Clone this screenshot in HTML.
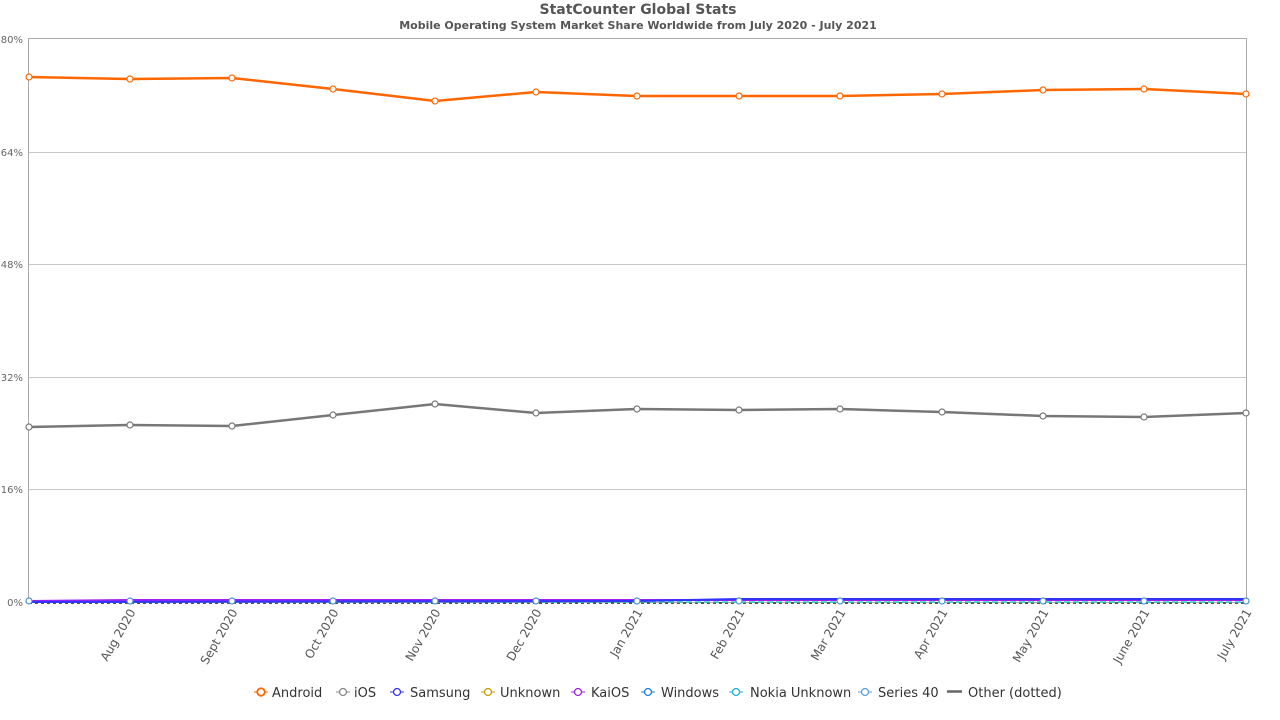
<!DOCTYPE html><html><head><style>body{margin:0;background:#fff}svg{display:block;font-family:"DejaVu Sans","Liberation Sans",sans-serif}</style></head><body>
<svg width="1280" height="720" viewBox="0 0 1280 720">
<text x="638" y="14" text-anchor="middle" font-size="14" font-weight="bold" fill="#555">StatCounter Global Stats</text>
<text x="638" y="29" text-anchor="middle" font-size="11" font-weight="bold" fill="#555">Mobile Operating System Market Share Worldwide from July 2020 - July 2021</text>
<g stroke="#c8c8c8" stroke-width="1">
<line x1="29" y1="152.5" x2="1246" y2="152.5"/><line x1="29" y1="264.5" x2="1246" y2="264.5"/><line x1="29" y1="377.5" x2="1246" y2="377.5"/><line x1="29" y1="489.5" x2="1246" y2="489.5"/>
</g>
<rect x="28.5" y="38.5" width="1218" height="564" fill="none" stroke="#aaa"/>
<g font-size="10" fill="#666" text-anchor="end">
<text x="23" y="43">80%</text><text x="23" y="156">64%</text><text x="23" y="268">48%</text><text x="23" y="381">32%</text><text x="23" y="493">16%</text><text x="23" y="606">0%</text>
</g>
<g font-size="12" fill="#555" text-anchor="end">
<text transform="translate(136,612) rotate(-60)">Aug 2020</text>
<text transform="translate(238,612) rotate(-60)">Sept 2020</text>
<text transform="translate(339,612) rotate(-60)">Oct 2020</text>
<text transform="translate(441,612) rotate(-60)">Nov 2020</text>
<text transform="translate(542,612) rotate(-60)">Dec 2020</text>
<text transform="translate(643,612) rotate(-60)">Jan 2021</text>
<text transform="translate(745,612) rotate(-60)">Feb 2021</text>
<text transform="translate(846,612) rotate(-60)">Mar 2021</text>
<text transform="translate(948,612) rotate(-60)">Apr 2021</text>
<text transform="translate(1049,612) rotate(-60)">May 2021</text>
<text transform="translate(1150,612) rotate(-60)">June 2021</text>
<text transform="translate(1252,612) rotate(-60)">July 2021</text>
</g>
<line x1="29" y1="603" x2="1246" y2="603" stroke="#555" stroke-width="2" stroke-dasharray="3,3"/>
<polyline fill="none" stroke="#3cc" stroke-width="1.5" stroke-dasharray="6,3" points="29,602 1246,602"/>
<polyline fill="none" stroke="#a020f0" stroke-width="2" points="29,601 130,600 232,600 333,600 435,600 536,600 637,600 739,600 840,600 942,600 1043,600 1144,600 1246,600"/>
<polyline fill="none" stroke="#33f" stroke-width="2" points="29,602 637,601 739,599 840,599 942,599 1043,599 1144,599 1246,599"/>
<polyline fill="none" stroke="#f60" stroke-width="2.5" points="29,77 130,79 232,78 333,89 435,101 536,92 637,96 739,96 840,96 942,94 1043,90 1144,89 1246,94"/>
<polyline fill="none" stroke="#777" stroke-width="2.5" points="29,427 130,425 232,426 333,415 435,404 536,413 637,409 739,410 840,409 942,412 1043,416 1144,417 1246,413"/>
<g fill="#fff" stroke="#f60" stroke-width="1.2">
<circle cx="29" cy="77" r="3"/><circle cx="130" cy="79" r="3"/><circle cx="232" cy="78" r="3"/><circle cx="333" cy="89" r="3"/><circle cx="435" cy="101" r="3"/><circle cx="536" cy="92" r="3"/><circle cx="637" cy="96" r="3"/><circle cx="739" cy="96" r="3"/><circle cx="840" cy="96" r="3"/><circle cx="942" cy="94" r="3"/><circle cx="1043" cy="90" r="3"/><circle cx="1144" cy="89" r="3"/><circle cx="1246" cy="94" r="3"/>
</g>
<g fill="#fff" stroke="#777" stroke-width="1.2">
<circle cx="29" cy="427" r="3"/><circle cx="130" cy="425" r="3"/><circle cx="232" cy="426" r="3"/><circle cx="333" cy="415" r="3"/><circle cx="435" cy="404" r="3"/><circle cx="536" cy="413" r="3"/><circle cx="637" cy="409" r="3"/><circle cx="739" cy="410" r="3"/><circle cx="840" cy="409" r="3"/><circle cx="942" cy="412" r="3"/><circle cx="1043" cy="416" r="3"/><circle cx="1144" cy="417" r="3"/><circle cx="1246" cy="413" r="3"/>
</g>
<g fill="#fff" stroke="#4a90d9" stroke-width="1.2">
<circle cx="29" cy="601" r="3"/><circle cx="130" cy="601" r="3"/><circle cx="232" cy="601" r="3"/><circle cx="333" cy="601" r="3"/><circle cx="435" cy="601" r="3"/><circle cx="536" cy="601" r="3"/><circle cx="637" cy="601" r="3"/><circle cx="739" cy="601" r="3"/><circle cx="840" cy="601" r="3"/><circle cx="942" cy="601" r="3"/><circle cx="1043" cy="601" r="3"/><circle cx="1144" cy="601" r="3"/><circle cx="1246" cy="601" r="3"/>
</g>
<g font-size="13" fill="#333">
<circle cx="261" cy="692" r="4" fill="#fff" stroke="#f60" stroke-width="1.3"/><line x1="254" y1="692" x2="268" y2="692" stroke="#f60"/><circle cx="261" cy="692" r="3.5" fill="#fff" stroke="#f60" stroke-width="1.3"/><text x="272" y="697">Android</text>
<line x1="336" y1="692" x2="350" y2="692" stroke="#888"/><circle cx="343" cy="692" r="3.5" fill="#fff" stroke="#888" stroke-width="1.3"/><text x="354" y="697">iOS</text>
<line x1="390" y1="692" x2="404" y2="692" stroke="#33f"/><circle cx="397" cy="692" r="3.5" fill="#fff" stroke="#33f" stroke-width="1.3"/><text x="410" y="697">Samsung</text>
<line x1="481" y1="692" x2="495" y2="692" stroke="#c90"/><circle cx="488" cy="692" r="3.5" fill="#fff" stroke="#c90" stroke-width="1.3"/><text x="500" y="697">Unknown</text>
<line x1="571" y1="692" x2="585" y2="692" stroke="#a020f0"/><circle cx="578" cy="692" r="3.5" fill="#fff" stroke="#a020f0" stroke-width="1.3"/><text x="591" y="697">KaiOS</text>
<line x1="641" y1="692" x2="655" y2="692" stroke="#1a7fd9"/><circle cx="648" cy="692" r="3.5" fill="#fff" stroke="#1a7fd9" stroke-width="1.3"/><text x="661" y="697">Windows</text>
<line x1="729" y1="692" x2="743" y2="692" stroke="#1ab0d0"/><circle cx="736" cy="692" r="3.5" fill="#fff" stroke="#1ab0d0" stroke-width="1.3"/><text x="750" y="697">Nokia Unknown</text>
<line x1="858" y1="692" x2="872" y2="692" stroke="#5aa0e0"/><circle cx="865" cy="692" r="3.5" fill="#fff" stroke="#5aa0e0" stroke-width="1.3"/><text x="878" y="697">Series 40</text>
<line x1="947" y1="691.5" x2="962" y2="691.5" stroke="#666" stroke-width="2.5"/><text x="968" y="697">Other (dotted)</text>
</g>
</svg>
</body></html>
